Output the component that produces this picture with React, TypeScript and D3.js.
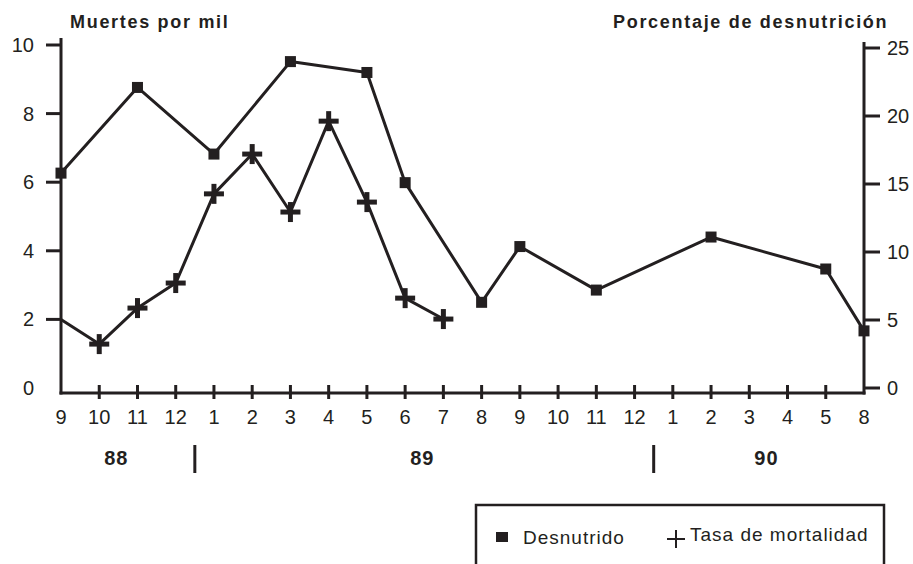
import React from "react";
import * as d3 from "d3";

// month ticks along the bottom, keyed by year so repeated months stay unique
const monthKeys = [
  "88-9", "88-10", "88-11", "88-12",
  "89-1", "89-2", "89-3", "89-4", "89-5", "89-6", "89-7", "89-8", "89-9", "89-10", "89-11", "89-12",
  "90-1", "90-2", "90-3", "90-4", "90-5", "90-8",
];
const years = ["88", "89", "90"];

const leftTicks = [0, 2, 4, 6, 8, 10];
const rightTicks = [0, 5, 10, 15, 20, 25];

// Desnutrido (right axis, %)
const desnutridoMonths = ["88-9", "88-11", "89-1", "89-3", "89-5", "89-6", "89-8", "89-9", "89-11", "90-2", "90-5", "90-8"];
const desnutridoValues = [15.8, 22.1, 17.2, 24.0, 23.2, 15.1, 6.3, 10.4, 7.2, 11.1, 8.75, 4.2];

// Tasa de mortalidad (left axis, deaths per thousand)
const mortalidadMonths = ["88-9", "88-10", "88-11", "88-12", "89-1", "89-2", "89-3", "89-4", "89-5", "89-6", "89-7"];
const mortalidadValues = [2.0, 1.28, 2.33, 3.06, 5.66, 6.82, 5.13, 7.78, 5.42, 2.62, 2.01];

const W = 913;
const H = 564;
const ink = "#231f20";
const font = "'Liberation Sans', Arial, sans-serif";

export default function App() {
  const left = 61;
  const right = 864;
  const axisY = 393;

  const x = d3.scalePoint<string>().domain(monthKeys).range([left, right]);
  const yL = d3.scaleLinear().domain([0, 10]).range([388, 45]);
  const yR = d3.scaleLinear().domain([0, 25]).range([388, 48]);

  const desn = desnutridoMonths.map((m, i) => ({ x: x(m)!, y: yR(desnutridoValues[i]) }));
  const mort = mortalidadMonths.map((m, i) => ({ x: x(m)!, y: yL(mortalidadValues[i]) }));

  const line = d3.line<{ x: number; y: number }>().x(d => d.x).y(d => d.y);

  // year spans: center of each year's months, separators between years
  const yearInfo = years.map(yr => {
    const ks = monthKeys.filter(k => k.startsWith(yr + "-"));
    const x0 = x(ks[0])!;
    const x1 = x(ks[ks.length - 1])!;
    return { yr, x0, x1, mid: (x0 + x1) / 2 };
  });
  const step = x.step();
  const separators = yearInfo.slice(1).map(d => d.x0 - step / 2);

  return (
    <svg width={W} height={H} style={{ position: "absolute", left: 0, top: 0, background: "#fff" }}
      fontFamily={font}>
      {/* titles */}
      <text x={70} y={28} fontSize={18} fontWeight="bold" letterSpacing={1.7} fill={ink}>Muertes por mil</text>
      <text x={613} y={28} fontSize={18} fontWeight="bold" letterSpacing={1.7} fill={ink}>Porcentaje de desnutrición</text>

      {/* axes */}
      <line x1={left} x2={left} y1={38} y2={axisY + 1.5} stroke={ink} strokeWidth={3} />
      <line x1={right} x2={right} y1={42} y2={axisY + 1.5} stroke={ink} strokeWidth={3} />
      <line x1={left - 1.5} x2={right + 1.5} y1={axisY} y2={axisY} stroke={ink} strokeWidth={3} />

      {leftTicks.map(t => (
        <g key={"l" + t}>
          {t > 0 && <line x1={left - 15} x2={left} y1={yL(t)} y2={yL(t)} stroke={ink} strokeWidth={3} />}
          <text x={34} y={yL(t) + 7} fontSize={20} textAnchor="end" fill={ink}>{t}</text>
        </g>
      ))}
      {rightTicks.map(t => (
        <g key={"r" + t}>
          <line x1={right} x2={right + 16} y1={yR(t)} y2={yR(t)} stroke={ink} strokeWidth={3} />
          <text x={887} y={yR(t) + 7} fontSize={20} fill={ink}>{t}</text>
        </g>
      ))}

      {monthKeys.map((k, i) => (
        <g key={k}>
          {i > 0 && i < monthKeys.length - 1 &&
            <line x1={x(k)} x2={x(k)} y1={385} y2={399} stroke={ink} strokeWidth={3} />}
          <text x={x(k)} y={424} fontSize={20} textAnchor="middle" fill={ink}>{k.split("-")[1]}</text>
        </g>
      ))}

      {/* years */}
      {yearInfo.map(d => (
        <text key={d.yr} x={d.mid - 2} y={465} fontSize={20} fontWeight="bold" letterSpacing={1}
          textAnchor="middle" fill={ink}>{d.yr}</text>
      ))}
      {separators.map((s, i) => (
        <line key={i} x1={s} x2={s} y1={445} y2={473} stroke={ink} strokeWidth={3} />
      ))}

      {/* series */}
      <path d={line(desn)!} fill="none" stroke={ink} strokeWidth={3} strokeLinejoin="round" />
      {desn.map((p, i) => (
        <rect key={i} x={p.x - 5.5} y={p.y - 5.5} width={11} height={11} fill={ink} />
      ))}

      <path d={line(mort)!} fill="none" stroke={ink} strokeWidth={3} strokeLinejoin="round" />
      {/* first point sits on the left axis, no marker shows there */}
      {mort.slice(1).map((p, i) => (
        <g key={i}>
          <line x1={p.x - 10} x2={p.x + 10} y1={p.y} y2={p.y} stroke={ink} strokeWidth={5} />
          <line x1={p.x} x2={p.x} y1={p.y - 10} y2={p.y + 10} stroke={ink} strokeWidth={5} />
        </g>
      ))}

      {/* legend */}
      <rect x={476} y={505} width={408} height={90} fill="none" stroke={ink} strokeWidth={2.5} />
      <rect x={496} y={532} width={12} height={10} fill={ink} />
      <text x={523} y={544} fontSize={19} letterSpacing={1} fill={ink}>Desnutrido</text>
      <line x1={667} x2={685} y1={539} y2={539} stroke={ink} strokeWidth={2} />
      <line x1={676} x2={676} y1={530} y2={548} stroke={ink} strokeWidth={2} />
      <text x={690} y={541} fontSize={19} letterSpacing={1} fill={ink}>Tasa de mortalidad</text>
    </svg>
  );
}
